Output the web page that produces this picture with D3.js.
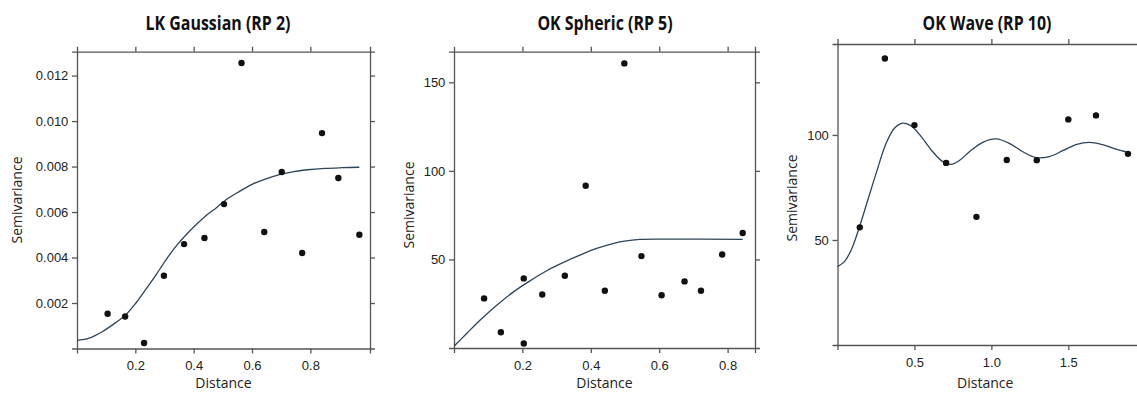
<!DOCTYPE html>
<html>
<head>
<meta charset="utf-8">
<script src="https://cdn.jsdelivr.net/npm/d3@7"></script>
<style>
  body { margin: 0; background: #fff; }
  .tick text { font-family: "Liberation Sans", Arial, sans-serif; font-size: 13px; fill: #222; }
  .domain, .tick line { stroke: #555; stroke-width: 1.3; }
</style>
</head>
<body>
<div id="chart"></div>
<script>
// LK Gaussian (RP 2)
const gaussDist = [0.105, 0.165, 0.23, 0.298, 0.367, 0.437, 0.504, 0.564, 0.642, 0.702, 0.772, 0.84, 0.896, 0.968];
const gaussSemi = [0.00153, 0.00141, 0.00024, 0.0032, 0.00459, 0.00486, 0.00635, 0.01255, 0.00512, 0.00776, 0.0042, 0.00947, 0.0075, 0.005];
const gaussFitX = [0, 0.042, 0.088, 0.134, 0.168, 0.202, 0.237, 0.271, 0.305, 0.339, 0.374, 0.408, 0.442, 0.477, 0.511, 0.556, 0.602, 0.648, 0.694, 0.739, 0.79, 0.85, 0.91, 0.968];
const gaussFitY = [0.00036, 0.00046, 0.00075, 0.00115, 0.00149, 0.002, 0.00262, 0.00324, 0.0039, 0.00449, 0.005, 0.00544, 0.00584, 0.00618, 0.00654, 0.0069, 0.00723, 0.00746, 0.00764, 0.00777, 0.00786, 0.00792, 0.00795, 0.00797];
const gaussXTicks = [0.2, 0.4, 0.6, 0.8];
const gaussYTicks = [0.002, 0.004, 0.006, 0.008, 0.010, 0.012];

// OK Spheric (RP 5)
const sphDist = [0.088, 0.137, 0.204, 0.204, 0.258, 0.324, 0.385, 0.441, 0.498, 0.548, 0.607, 0.674, 0.722, 0.784, 0.844];
const sphSemi = [28, 8.9, 39.3, 2.5, 30.2, 40.8, 91.6, 32.3, 160.7, 51.9, 29.8, 37.6, 32.3, 52.8, 64.9];
const sphFitX = [0, 0.037, 0.076, 0.125, 0.174, 0.222, 0.271, 0.32, 0.368, 0.417, 0.465, 0.498, 0.543, 0.612, 0.844];
const sphFitY = [1, 8.2, 15.7, 24.2, 31.7, 37.9, 43.6, 48.3, 52.4, 56.2, 59, 60.3, 61.3, 61.5, 61.3];
const sphXTicks = [0.2, 0.4, 0.6, 0.8];
const sphYTicks = [50, 100, 150];

// OK Wave (RP 10)
const waveDist = [0.145, 0.308, 0.5, 0.706, 0.903, 1.1, 1.295, 1.5, 1.68, 1.888];
const waveSemi = [56, 136.4, 104.7, 86.7, 61, 88.1, 88, 107.4, 109.3, 91];
const waveFitX = [0, 0.045, 0.089, 0.143, 0.197, 0.251, 0.316, 0.37, 0.425, 0.479, 0.544, 0.619, 0.684, 0.738, 0.792, 0.857, 0.944, 1.031, 1.117, 1.204, 1.29, 1.377, 1.464, 1.55, 1.636, 1.723, 1.81, 1.892];
const waveFitY = [37.3, 39.7, 45.2, 56.3, 69, 81.7, 96, 103.2, 105.6, 104.3, 99.2, 92, 87.3, 86, 87.8, 92, 96.5, 98.1, 96, 92, 89.2, 89.7, 92.5, 95.4, 96.5, 95.4, 93.2, 91.6];
const waveXTicks = [0.5, 1.0, 1.5];
const waveYTicks = [50, 100];

const svg = d3.select("#chart").append("svg")
    .attr("width", 1137)
    .attr("height", 394);

function panel(o) {
    const x = d3.scaleLinear().domain(o.xDomain).range([o.left, o.right]);
    const y = d3.scaleLinear().domain(o.yDomain).range([o.bottom, o.top]);
    const g = svg.append("g");

    // frame axes, ticks pointing outwards on every side
    g.append("g").attr("transform", `translate(0,${o.bottom})`)
        .call(d3.axisBottom(x).tickValues(o.xTicks).tickFormat(d3.format(o.xFmt)).tickSize(5).tickSizeOuter(5))
        .selectAll("text").attr("dy", "1.05em");
    g.append("g").attr("transform", `translate(0,${o.top})`)
        .call(d3.axisTop(x).tickValues(o.xTicks).tickFormat("").tickSize(5).tickSizeOuter(5));
    g.append("g").attr("transform", `translate(${o.left},0)`)
        .call(d3.axisLeft(y).tickValues(o.yTicks).tickFormat(d3.format(o.yFmt)).tickSize(5).tickSizeOuter(5))
        .selectAll("text").attr("dx", "-0.05em");
    if (o.rightAxis) {
        g.append("g").attr("transform", `translate(${o.right},0)`)
            .call(d3.axisRight(y).tickValues(o.yTicks).tickFormat("").tickSize(5).tickSizeOuter(5));
    }

    const line = d3.line()
        .x((d, i) => x(o.fitX[i]))
        .y(d => y(d))
        .curve(d3.curveCatmullRom.alpha(0.5));
    g.append("path")
        .datum(o.fitY)
        .attr("d", line)
        .attr("fill", "none")
        .attr("stroke", "#2e4457")
        .attr("stroke-width", 1.3);

    g.selectAll("circle")
        .data(o.dist)
        .enter()
        .append("circle")
        .attr("cx", d => x(d))
        .attr("cy", (d, i) => y(o.semi[i]))
        .attr("r", 3.2)
        .attr("fill", "#111");

    // title font is narrower in the original, squeeze it horizontally
    g.append("text")
        .attr("transform", `translate(${o.titleX},30) scale(0.84,1)`)
        .attr("text-anchor", "middle")
        .style("font-family", "'Open Sans', sans-serif")
        .style("font-weight", "bold")
        .style("font-size", "19px")
        .attr("fill", "#111")
        .text(o.title);

    g.append("text")
        .attr("x", (o.left + Math.min(o.right, 1137)) / 2 + o.xLabelShift).attr("y", 388)
        .attr("text-anchor", "middle")
        .style("font-family", "'Open Sans', sans-serif")
        .style("font-size", "14px")
        .attr("fill", "#222")
        .text("Distance");

    g.append("text")
        .attr("transform", `translate(${o.yLabelX},${o.yLabelY}) rotate(-90)`)
        .attr("text-anchor", "middle")
        .style("font-family", "'Open Sans', sans-serif")
        .style("font-size", "14px")
        .attr("fill", "#222")
        .text("Semivariance");
}

panel({
    title: "LK Gaussian (RP 2)", titleX: 218,
    left: 77, right: 370, top: 51.7, bottom: 348.5,
    xDomain: [0, 1.0045], yDomain: [0, 0.01305],
    xTicks: gaussXTicks, yTicks: gaussYTicks, xFmt: ".1f", yFmt: ".3f",
    dist: gaussDist, semi: gaussSemi, fitX: gaussFitX, fitY: gaussFitY,
    rightAxis: true, xLabelShift: 0, yLabelX: 22, yLabelY: 200
});

panel({
    title: "OK Spheric (RP 5)", titleX: 605,
    left: 454, right: 755, top: 51.7, bottom: 348,
    xDomain: [0, 0.88], yDomain: [0, 167.3],
    xTicks: sphXTicks, yTicks: sphYTicks, xFmt: ".1f", yFmt: "d",
    dist: sphDist, semi: sphSemi, fitX: sphFitX, fitY: sphFitY,
    rightAxis: true, xLabelShift: 0, yLabelX: 414, yLabelY: 205
});

panel({
    title: "OK Wave (RP 10)", titleX: 987,
    left: 837.5, right: 1140, top: 44, bottom: 345,
    xDomain: [0, 1.966], yDomain: [0, 143.3],
    xTicks: waveXTicks, yTicks: waveYTicks, xFmt: ".1f", yFmt: "d",
    dist: waveDist, semi: waveSemi, fitX: waveFitX, fitY: waveFitY,
    rightAxis: false, xLabelShift: -2, yLabelX: 797, yLabelY: 198
});
</script>
</body>
</html>
